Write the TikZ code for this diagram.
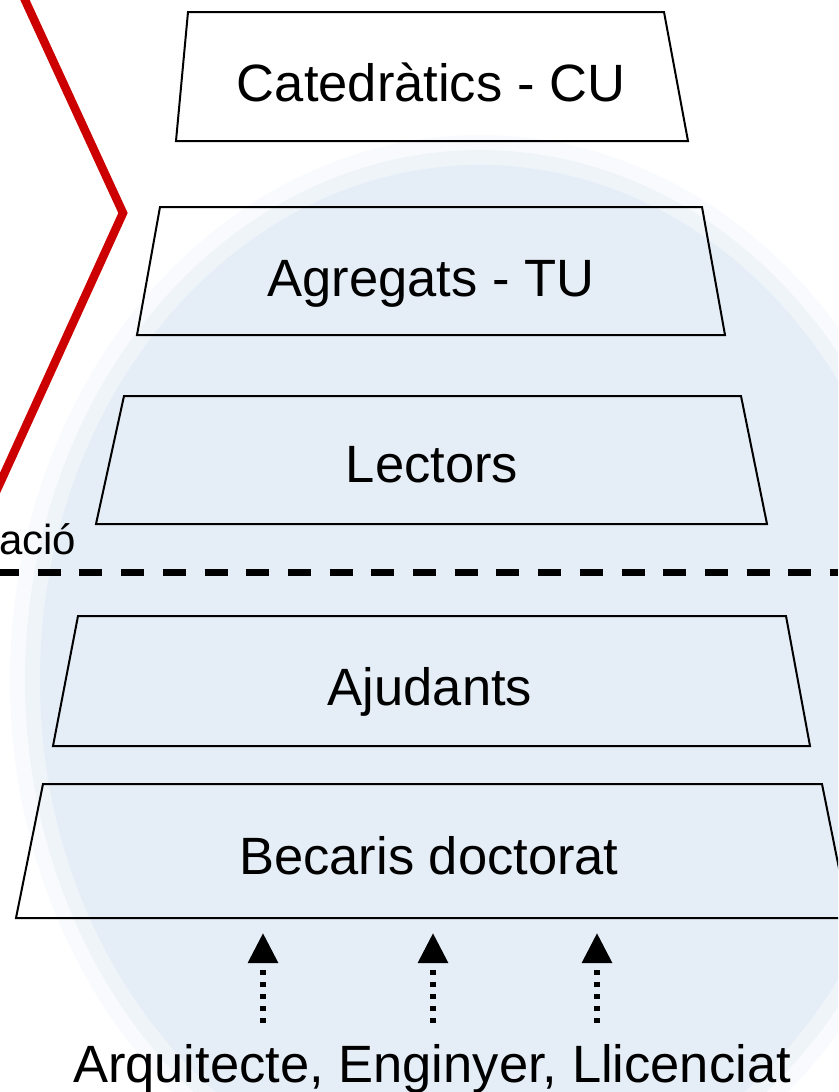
\documentclass[tikz,border=0pt]{standalone}
\usepackage{fontspec}
\setmainfont{Liberation Sans}
\usetikzlibrary{arrows.meta}
\definecolor{marca}{HTML}{E5EDF6}
\definecolor{vermell}{HTML}{CC0000}
\begin{document}
\begin{tikzpicture}[x=1pt, y=-1pt, line join=miter, >={Triangle[length=30pt,width=29pt]},
	tier/.style={draw=black, line width=2pt},
	lbl/.style={font=\fontsize{52.5}{60}\selectfont, anchor=base, inner sep=0pt}]
	\useasboundingbox (0,0) rectangle (838,1092);
	\clip (0,0) rectangle (838,1092);
	% marca d'aigua de fons
	\foreach \r/\o in {30/0.25, 15/0.5, 0/1}
		\fill[marca, opacity=\o] (480,680) ellipse [x radius=440+\r, y radius=515+\r];
	% graons
	\foreach \tl/\tr/\ty/\bl/\br/\by in {188/664/12/176/688/141, 160/702/207/137/725/335,
		124/741/396/96/767/524, 78/786/616/53/810/746, 43/822/784/16/849/918}
		\draw[tier] (\tl,\ty) -- (\tr,\ty) -- (\br,\by) -- (\bl,\by) -- cycle;
	\node[lbl] (cu) at (431,101) {Catedràtics - CU};
	\node[lbl] (tu) at (431,296) {Agregats - TU};
	\node[lbl] (lec) at (432,482) {Lectors};
	\node[lbl] (aju) at (430,705) {Ajudants};
	\node[lbl] (bec) at (429,874) {Becaris doctorat};
	\node[lbl] (orig) at (432,1082) {Arquitecte, Enginyer, Llicenciat};
	\node[lbl, anchor=base west, font=\fontsize{42}{48}\selectfont] (prom) at (-1,554) {ació};
	% línia de tall
	\coordinate (t0) at (0,572.5);
	\coordinate (t1) at (838,572.5);
	\draw[line width=6.5pt, dash pattern=on 23pt off 18.7pt, dash phase=4pt] (t0) -- (t1);
	% accés
	\foreach \n/\x in {a/263, b/433, c/597} {
		\coordinate (\n0) at (\x,1023);
		\coordinate (\n1) at (\x,933);
		\draw[->, line width=6pt, dash pattern=on 5pt off 7pt] (\n0) -- (\n1);
	}
	% fletxa vermella
	\coordinate (v0) at (22.7,-5);
	\coordinate (v1) at (123,213);
	\coordinate (v2) at (-5,494);
	\draw[vermell, line width=8.5pt] (v0) -- (v1) -- (v2);
\end{tikzpicture}
\end{document}
